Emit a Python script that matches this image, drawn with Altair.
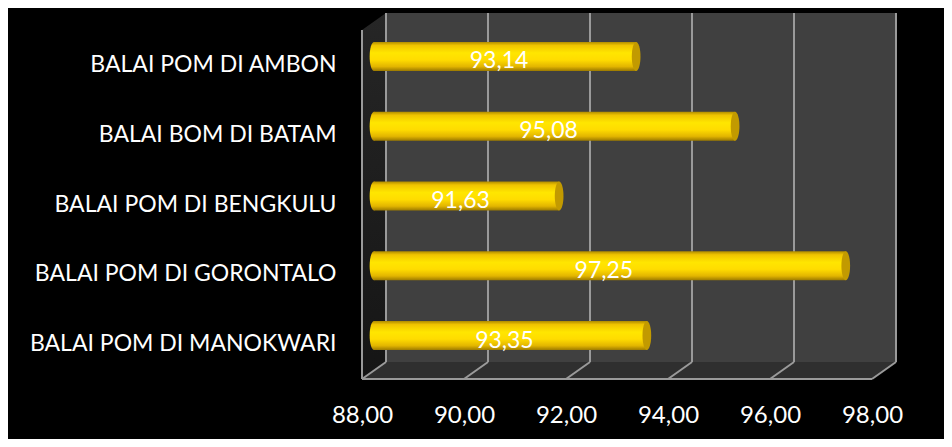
import altair as alt
import pandas as pd

# ---- data ----
categories = [
    "BALAI POM DI AMBON",
    "BALAI BOM DI BATAM",
    "BALAI POM DI BENGKULU",
    "BALAI POM DI GORONTALO",
    "BALAI POM DI MANOKWARI",
]
values = [93.14, 95.08, 91.63, 97.25, 93.35]
value_labels = ["93,14", "95,08", "91,63", "97,25", "93,35"]
tick_values = [88, 90, 92, 94, 96, 98]

# ---- layout ----
X_MIN, X_MAX = 88, 98
W, H = 510, 366
DEPTH_X, DEPTH_Y = 24, 17          # 3D depth of the frame, px
FRONT_TOP = DEPTH_Y
BACK_BOTTOM = H - DEPTH_Y
DX = DEPTH_X * (X_MAX - X_MIN) / W  # depth in data units
FONT = "Lato"

df = pd.DataFrame({"cat": categories, "value": values, "label": value_labels})
df["base"] = X_MIN
df["mid"] = (df["value"] + df["base"]) / 2
ticks = pd.DataFrame({"t": tick_values})

floor_df = pd.DataFrame({
    "x": [X_MIN, X_MIN + DX, X_MAX, X_MAX + DX],
    "y": [H, BACK_BOTTOM, BACK_BOTTOM, BACK_BOTTOM],
    "y2": [H, H, H, BACK_BOTTOM],
})
side_df = pd.DataFrame({
    "x": [X_MIN, X_MIN + DX],
    "y": [FRONT_TOP, 0],
    "y2": [H, BACK_BOTTOM],
})
wall_df = pd.DataFrame({"x": [X_MIN], "x2": [X_MAX]})

xscale = alt.Scale(domain=[X_MIN, X_MAX], nice=False, zero=False)
ypx = alt.Scale(domain=[0, H], reverse=True, nice=False, zero=False)
yband = alt.Scale(domain=categories, range=[FRONT_TOP, H], paddingInner=0, paddingOuter=0)

xaxis = alt.Axis(
    values=tick_values,
    labelExpr="replace(format(datum.value, '.2f'), '.', ',')",
    labelFont=FONT, labelFontSize=24, labelColor="white",
    labelPadding=24, ticks=False, domain=False, grid=False, title=None,
    labelFlush=False,
)
yaxis = alt.Axis(
    labelFont=FONT, labelFontSize=23, labelColor="white",
    labelPadding=26, ticks=False, domain=False, grid=False, title=None,
    labelLimit=400,
)

GRID = "#9a9a9a"

side = alt.Chart(side_df).mark_area(
    fill=alt.Gradient(gradient="linear", x1=0, y1=0, x2=0, y2=1,
                      stops=[alt.GradientStop(color="#262626", offset=0),
                             alt.GradientStop(color="#151515", offset=1)])
).encode(
    x=alt.X("x:Q", scale=xscale, axis=xaxis),
    y=alt.Y("y:Q", scale=ypx, axis=None),
    y2="y2:Q",
)
floor = alt.Chart(floor_df).mark_area(color="#2f2f2f").encode(
    x=alt.X("x:Q", scale=xscale, axis=xaxis),
    y=alt.Y("y:Q", scale=ypx, axis=None),
    y2="y2:Q",
)
wall = alt.Chart(wall_df).mark_rect(
    color="#404040", xOffset=DEPTH_X, x2Offset=DEPTH_X
).encode(
    x=alt.X("x:Q", scale=xscale, axis=xaxis),
    x2="x2:Q",
    y=alt.value(0),
    y2=alt.value(BACK_BOTTOM),
)
back_grid = alt.Chart(ticks).mark_rule(
    color=GRID, strokeWidth=2, xOffset=DEPTH_X
).encode(
    x=alt.X("t:Q", scale=xscale, axis=xaxis),
    y=alt.value(0),
    y2=alt.value(BACK_BOTTOM),
)
floor_grid = alt.Chart(ticks).mark_rule(
    color=GRID, strokeWidth=2, x2Offset=DEPTH_X
).encode(
    x=alt.X("t:Q", scale=xscale, axis=xaxis),
    x2="t:Q",
    y=alt.value(H),
    y2=alt.value(BACK_BOTTOM),
)
front_edge = alt.Chart(wall_df).mark_rule(color=GRID, strokeWidth=2).encode(
    x=alt.X("x:Q", scale=xscale, axis=xaxis),
    x2="x2:Q",
    y=alt.value(H),
)
left_edge = alt.Chart(wall_df).mark_rule(color=GRID, strokeWidth=2).encode(
    x=alt.X("x:Q", scale=xscale, axis=xaxis),
    y=alt.value(FRONT_TOP),
    y2=alt.value(H),
)

BAR_H = 29
BX = DEPTH_X / 2
BY = -DEPTH_Y / 2
bar_grad = alt.Gradient(
    gradient="linear", x1=0, y1=0, x2=0, y2=1,
    stops=[
        alt.GradientStop(color="#b08c00", offset=0),
        alt.GradientStop(color="#f0c400", offset=0.12),
        alt.GradientStop(color="#ffe600", offset=0.38),
        alt.GradientStop(color="#ffdc00", offset=0.62),
        alt.GradientStop(color="#e2b500", offset=0.85),
        alt.GradientStop(color="#9c7a00", offset=1),
    ],
)
ELLIPSE = "M0,-1 A0.3,1 0 1,1 0,1 A0.3,1 0 1,1 0,-1 Z"

left_cap = alt.Chart(df).mark_point(
    shape=ELLIPSE, filled=True, fill=bar_grad, size=BAR_H * BAR_H,
    opacity=1, strokeWidth=0, xOffset=BX, yOffset=BY,
).encode(
    x=alt.X("base:Q", scale=xscale, axis=xaxis),
    y=alt.Y("cat:N", sort=categories, scale=yband, axis=None),
)
bars = alt.Chart(df).mark_bar(
    fill=bar_grad, size=BAR_H, xOffset=BX, x2Offset=BX, yOffset=BY,
).encode(
    x=alt.X("value:Q", scale=xscale, axis=xaxis),
    x2="base:Q",
    y=alt.Y("cat:N", sort=categories, scale=yband, axis=yaxis),
)
right_cap = alt.Chart(df).mark_point(
    shape=ELLIPSE, filled=True, fill="#c29a00", size=BAR_H * BAR_H,
    opacity=1, strokeWidth=0, xOffset=BX, yOffset=BY,
).encode(
    x=alt.X("value:Q", scale=xscale, axis=xaxis),
    y=alt.Y("cat:N", sort=categories, scale=yband, axis=None),
)
labels = alt.Chart(df).mark_text(
    color="white", font=FONT, fontSize=23, align="center", baseline="middle",
    xOffset=BX - 6, yOffset=BY + 5,
).encode(
    x=alt.X("mid:Q", scale=xscale, axis=xaxis),
    y=alt.Y("cat:N", sort=categories, scale=yband, axis=None),
    text="label:N",
)

chart = alt.layer(
    side, floor, wall, back_grid, floor_grid, front_edge, left_edge,
    left_cap, bars, right_cap, labels,
).resolve_scale(y="independent").properties(
    width=W, height=H,
    autosize=alt.AutoSizeParams(type="none"),
    padding={"left": 354, "top": 5, "right": 72, "bottom": 60},
    background="black",
).configure_view(stroke=None)

chart.save("out.html", embed_options={"renderer": "svg", "actions": False})
